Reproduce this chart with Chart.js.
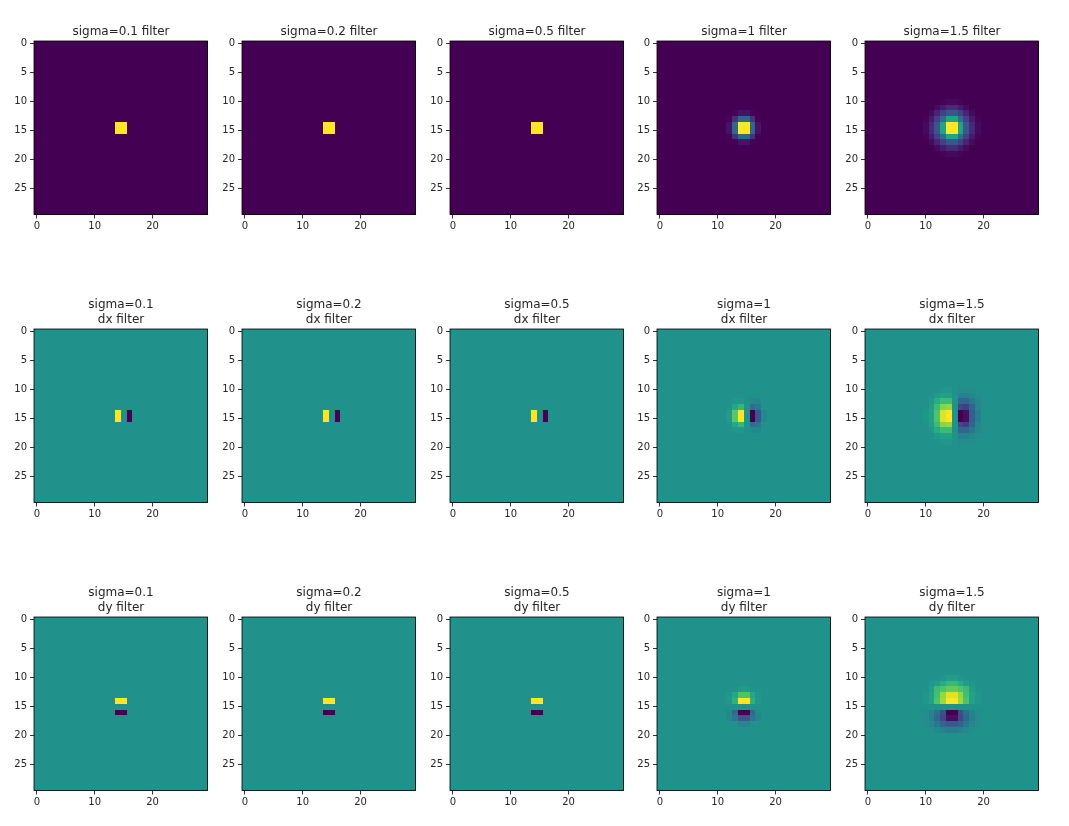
<!DOCTYPE html>
<html>
<head>
<meta charset="utf-8">
<script src="https://cdn.jsdelivr.net/npm/chart.js@4"></script>
<style>
    html, body { margin: 0; background: #fff; }
    #figure { position: relative; width: 1069px; height: 826px; overflow: hidden; }
    #figure canvas { position: absolute; }
</style>
</head>
<body>
<div id="figure"></div>
<script>
const sigmas = ['0.1', '0.2', '0.5', '1', '1.5'];
const xTicks = [0, 10, 20];
const yTicks = [0, 5, 10, 15, 20, 25];

// Filter values on the 0..1 colour range. Each patch covers rows and columns 10..19
const gaussNarrow = [
    [0, 0, 0, 0, 0, 0, 0, 0, 0, 0],
    [0, 0, 0, 0, 0, 0, 0, 0, 0, 0],
    [0, 0, 0, 0, 0, 0, 0, 0, 0, 0],
    [0, 0, 0, 0, 0, 0, 0, 0, 0, 0],
    [0, 0, 0, 0, 1, 1, 0, 0, 0, 0],
    [0, 0, 0, 0, 1, 1, 0, 0, 0, 0],
    [0, 0, 0, 0, 0, 0, 0, 0, 0, 0],
    [0, 0, 0, 0, 0, 0, 0, 0, 0, 0],
    [0, 0, 0, 0, 0, 0, 0, 0, 0, 0],
    [0, 0, 0, 0, 0, 0, 0, 0, 0, 0]
];
const gaussOne = [
    [0, 0, 0, 0, 0, 0, 0, 0, 0, 0],
    [0, 0, 0, 0, 0, 0, 0, 0, 0, 0],
    [0, 0, 0, .01, .05, .05, .01, 0, 0, 0],
    [0, 0, .01, .14, .33, .33, .14, .01, 0, 0],
    [0, 0, .05, .33, 1, 1, .33, .05, 0, 0],
    [0, 0, .05, .33, 1, 1, .33, .05, 0, 0],
    [0, 0, .01, .14, .33, .33, .14, .01, 0, 0],
    [0, 0, 0, .01, .05, .05, .01, 0, 0, 0],
    [0, 0, 0, 0, 0, 0, 0, 0, 0, 0],
    [0, 0, 0, 0, 0, 0, 0, 0, 0, 0]
];
const gaussWide = [
    [0, 0, 0, .01, .02, .02, .01, 0, 0, 0],
    [0, 0, .03, .07, .12, .12, .07, .03, 0, 0],
    [0, .03, .1, .19, .27, .27, .19, .1, .03, 0],
    [.01, .07, .19, .35, .58, .58, .35, .19, .07, .01],
    [.02, .12, .27, .58, 1, 1, .58, .27, .12, .02],
    [.02, .12, .27, .58, 1, 1, .58, .27, .12, .02],
    [.01, .07, .19, .35, .58, .58, .35, .19, .07, .01],
    [0, .03, .1, .19, .27, .27, .19, .1, .03, 0],
    [0, 0, .03, .07, .12, .12, .07, .03, 0, 0],
    [0, 0, 0, .01, .02, .02, .01, 0, 0, 0]
];
const dxNarrow = [
    [.5, .5, .5, .5, .5, .5, .5, .5, .5, .5],
    [.5, .5, .5, .5, .5, .5, .5, .5, .5, .5],
    [.5, .5, .5, .5, .5, .5, .5, .5, .5, .5],
    [.5, .5, .5, .5, .5, .5, .5, .5, .5, .5],
    [.5, .5, .5, .5, 1, .5, 0, .5, .5, .5],
    [.5, .5, .5, .5, 1, .5, 0, .5, .5, .5],
    [.5, .5, .5, .5, .5, .5, .5, .5, .5, .5],
    [.5, .5, .5, .5, .5, .5, .5, .5, .5, .5],
    [.5, .5, .5, .5, .5, .5, .5, .5, .5, .5],
    [.5, .5, .5, .5, .5, .5, .5, .5, .5, .5]
];
const dxOne = [
    [.5, .5, .5, .5, .5, .5, .5, .5, .5, .5],
    [.5, .5, .5, .5, .5, .5, .5, .5, .5, .5],
    [.5, .5, .5, .52, .53, .5, .47, .46, .5, .5],
    [.5, .5, .51, .6, .66, .5, .36, .4, .49, .5],
    [.5, .5, .54, .74, 1, .5, 0, .27, .46, .5],
    [.5, .5, .54, .74, 1, .5, 0, .27, .46, .5],
    [.5, .5, .51, .6, .66, .5, .36, .4, .49, .5],
    [.5, .5, .5, .52, .53, .5, .47, .46, .5, .5],
    [.5, .5, .5, .5, .5, .5, .5, .5, .5, .5],
    [.5, .5, .5, .5, .5, .5, .5, .5, .5, .5]
];
const dxWide = [
    [.5, .5, .51, .52, .52, .5, .48, .48, .49, .5],
    [.5, .51, .54, .57, .57, .5, .43, .43, .46, .49],
    [.5, .53, .62, .68, .68, .5, .33, .33, .4, .47],
    [.51, .55, .68, .82, .84, .5, .22, .18, .32, .45],
    [.52, .58, .72, .95, 1, .5, 0, .04, .3, .42],
    [.52, .58, .72, .95, 1, .5, 0, .04, .3, .42],
    [.51, .55, .68, .82, .84, .5, .22, .18, .32, .45],
    [.5, .53, .62, .68, .68, .5, .33, .33, .4, .47],
    [.5, .51, .54, .57, .57, .5, .43, .43, .46, .49],
    [.5, .5, .51, .52, .52, .5, .48, .48, .49, .5]
];
const dyNarrow = [
    [.5, .5, .5, .5, .5, .5, .5, .5, .5, .5],
    [.5, .5, .5, .5, .5, .5, .5, .5, .5, .5],
    [.5, .5, .5, .5, .5, .5, .5, .5, .5, .5],
    [.5, .5, .5, .5, .5, .5, .5, .5, .5, .5],
    [.5, .5, .5, .5, 1, 1, .5, .5, .5, .5],
    [.5, .5, .5, .5, .5, .5, .5, .5, .5, .5],
    [.5, .5, .5, .5, 0, 0, .5, .5, .5, .5],
    [.5, .5, .5, .5, .5, .5, .5, .5, .5, .5],
    [.5, .5, .5, .5, .5, .5, .5, .5, .5, .5],
    [.5, .5, .5, .5, .5, .5, .5, .5, .5, .5]
];
const dyOne = [
    [.5, .5, .5, .5, .5, .5, .5, .5, .5, .5],
    [.5, .5, .5, .5, .5, .5, .5, .5, .5, .5],
    [.5, .5, .5, .51, .54, .54, .51, .5, .5, .5],
    [.5, .5, .52, .6, .72, .72, .6, .52, .5, .5],
    [.5, .5, .53, .64, 1, 1, .64, .53, .5, .5],
    [.5, .5, .5, .5, .5, .5, .5, .5, .5, .5],
    [.5, .5, .47, .34, 0, 0, .34, .47, .5, .5],
    [.5, .5, .46, .4, .27, .27, .4, .46, .5, .5],
    [.5, .5, .5, .49, .46, .46, .49, .5, .5, .5],
    [.5, .5, .5, .5, .5, .5, .5, .5, .5, .5]
];
const dyWide = [
    [.5, .5, .51, .52, .55, .55, .52, .51, .5, .5],
    [.5, .52, .55, .62, .67, .67, .62, .55, .52, .5],
    [.51, .55, .68, .72, .76, .76, .72, .68, .55, .51],
    [.52, .58, .7, .84, .95, .95, .84, .7, .58, .52],
    [.52, .58, .72, .86, 1, 1, .86, .72, .58, .52],
    [.5, .5, .5, .5, .5, .5, .5, .5, .5, .5],
    [.48, .44, .36, .24, 0, 0, .24, .36, .44, .48],
    [.48, .43, .33, .22, .04, .04, .22, .33, .43, .48],
    [.49, .46, .4, .32, .28, .28, .32, .4, .46, .49],
    [.5, .49, .47, .44, .42, .42, .44, .47, .49, .5]
];

const rowsOfPanels = [
    { background: 0, label: '', patches: [gaussNarrow, gaussNarrow, gaussNarrow, gaussOne, gaussWide] },
    { background: .5, label: 'dx filter', patches: [dxNarrow, dxNarrow, dxNarrow, dxOne, dxWide] },
    { background: .5, label: 'dy filter', patches: [dyNarrow, dyNarrow, dyNarrow, dyOne, dyWide] }
];

const viridis = ['#440154', '#482475', '#414487', '#355f8d', '#2a788e', '#21918c', '#22a884', '#44bf70', '#7ad151', '#bddf26', '#fde725'];

function hexToRgb(hex) {
    return [1, 3, 5].map(i => parseInt(hex.slice(i, i + 2), 16));
}

function viridisColor(v) {
    const pos = Math.min(Math.max(v, 0), 1) * (viridis.length - 1);
    const low = Math.floor(pos);
    const high = Math.min(low + 1, viridis.length - 1);
    const a = hexToRgb(viridis[low]);
    const b = hexToRgb(viridis[high]);
    const mix = a.map((c, i) => Math.round(c + (b[i] - c) * (pos - low)));
    return `rgb(${mix[0]}, ${mix[1]}, ${mix[2]})`;
}

// Turns a patch into one {x, y, v} point per cell of the 30x30 image
function cellsFor(patch, background) {
    const cells = [];
    for (let y = 0; y < 30; y++) {
        for (let x = 0; x < 30; x++) {
            const inside = x >= 10 && x < 20 && y >= 10 && y < 20;
            cells.push({ x: x, y: y, v: inside ? patch[y - 10][x - 10] : background });
        }
    }
    return cells;
}

// Chart.js has no image type, so cells are painted from the dataset through the scales
const imagePlugin = {
    id: 'imagePlugin',
    beforeDatasetsDraw(chart) {
        const { ctx, scales: { x, y } } = chart;
        chart.data.datasets[0].data.forEach(cell => {
            const left = Math.round(x.getPixelForValue(cell.x - 0.5));
            const right = Math.round(x.getPixelForValue(cell.x + 0.5));
            const top = Math.round(y.getPixelForValue(cell.y - 0.5));
            const bottom = Math.round(y.getPixelForValue(cell.y + 0.5));
            ctx.fillStyle = viridisColor(cell.v);
            ctx.fillRect(left, top, right - left, bottom - top);
        });
    },
    afterDraw(chart) {
        const { ctx, chartArea: a } = chart;
        ctx.strokeStyle = '#000';
        ctx.lineWidth = 0.8;
        ctx.strokeRect(a.left, a.top, a.width, a.height);
    }
};

const figure = document.getElementById('figure');
const panelLefts = [0, 208, 416, 623, 831];
const panelTops = [1, 289, 577];

rowsOfPanels.forEach((row, r) => {
    row.patches.forEach((patch, c) => {
        const canvas = document.createElement('canvas');
        canvas.width = 242;
        canvas.height = 240;
        canvas.style.left = panelLefts[c] + 'px';
        canvas.style.top = panelTops[r] + 'px';
        figure.appendChild(canvas);

        const title = row.label ? [`sigma=${sigmas[c]}`, row.label] : `sigma=${sigmas[c]} filter`;

        new Chart(canvas.getContext('2d'), {
            type: 'scatter',
            data: {
                datasets: [{
                    data: cellsFor(patch, row.background),
                    pointRadius: 0
                }]
            },
            options: {
                responsive: false,
                animation: false,
                events: [],
                layout: { autoPadding: false },
                font: { family: '"DejaVu Sans"' },
                plugins: {
                    legend: { display: false },
                    tooltip: { enabled: false },
                    title: {
                        display: true,
                        text: title,
                        color: '#262626',
                        font: { family: '"DejaVu Sans"', size: 12, weight: 'normal', lineHeight: 1.25 },
                        padding: { top: row.label ? 8 : 23, bottom: 2 }
                    }
                },
                scales: {
                    x: {
                        type: 'linear',
                        min: -0.5,
                        max: 29.5,
                        afterBuildTicks: scale => { scale.ticks = xTicks.map(value => ({ value })); },
                        afterFit: scale => { scale.height = 26.5; },
                        border: { display: false },
                        grid: { drawOnChartArea: false, tickLength: 4, color: '#000', lineWidth: 0.8 },
                        ticks: { color: '#262626', padding: 2, maxRotation: 0, autoSkip: false, font: { family: '"DejaVu Sans"', size: 10 }, callback: v => String(v) }
                    },
                    y: {
                        type: 'linear',
                        reverse: true,
                        min: -0.5,
                        max: 29.5,
                        afterBuildTicks: scale => { scale.ticks = yTicks.map(value => ({ value })); },
                        afterFit: scale => { scale.width = 34; },
                        border: { display: false },
                        grid: { drawOnChartArea: false, tickLength: 4, color: '#000', lineWidth: 0.8 },
                        ticks: { color: '#262626', padding: 3, autoSkip: false, font: { family: '"DejaVu Sans"', size: 10 }, callback: v => String(v) }
                    },
                    // empty axis on the right so the title stays centred on the image
                    spacer: {
                        type: 'linear',
                        position: 'right',
                        afterFit: scale => { scale.width = 34.5; },
                        border: { display: false },
                        grid: { display: false },
                        ticks: { display: false }
                    }
                }
            },
            plugins: [imagePlugin]
        });
    });
});
</script>
</body>
</html>
